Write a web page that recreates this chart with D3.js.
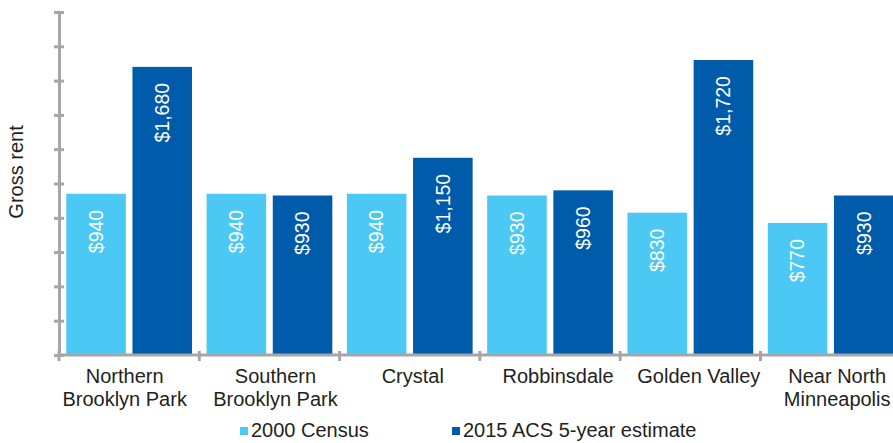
<!DOCTYPE html>
<html>
<head>
<meta charset="utf-8">
<script src="https://cdn.jsdelivr.net/npm/d3@7"></script>
<style>
  html, body { margin: 0; padding: 0; background: #fff; }
  svg { display: block; }
  text { font-family: "Liberation Sans", Arial, sans-serif; }
</style>
</head>
<body>
<svg id="chart" width="893" height="443"></svg>
<script>
const categories = ["Northern\nBrooklyn Park", "Southern\nBrooklyn Park", "Crystal", "Robbinsdale", "Golden Valley", "Near North\nMinneapolis"];
const seriesNames = ["2000 Census", "2015 ACS 5-year estimate"];
const census2000 = [940, 940, 940, 930, 830, 770];
const acs2015 = [1680, 930, 1150, 960, 1720, 930];
const yTicks = [0, 200, 400, 600, 800, 1000, 1200, 1400, 1600, 1800, 2000];
const colors = ["#4BC8F4", "#005BAA"];

const svg = d3.select("#chart");
const mLeft = 59, mTop = 12, mBottom = 355;
const bandW = 140.3;
// small horizontal nudges of category labels (layout only)
const labelNudge = [-4.5, 6, 3, 8, 8.5, 6.5];

const x0 = d3.scaleBand().domain(categories).range([mLeft, mLeft + bandW * categories.length]).padding(0);
const x1 = d3.scaleBand().domain(seriesNames).range([0, x0.bandwidth()]).paddingInner(0.1).paddingOuter(0.11);
const y = d3.scaleLinear().domain([0, 2000]).range([mBottom, mTop]);

const axisColor = "#A6A6A6";
const textColor = "#231F20";

// bars
const data = categories.map((c, i) => ({ cat: c, vals: [census2000[i], acs2015[i]] }));
const groups = svg.append("g").selectAll("g").data(data).join("g")
  .attr("transform", d => `translate(${x0(d.cat)},0)`);

groups.selectAll("rect").data(d => d.vals.map((v, j) => ({ s: seriesNames[j], v, j })))
  .join("rect")
  .attr("x", d => x1(d.s))
  .attr("y", d => y(d.v))
  .attr("width", x1.bandwidth())
  .attr("height", d => y(0) - y(d.v))
  .attr("fill", d => colors[d.j]);

groups.selectAll("text.val").data(d => d.vals.map((v, j) => ({ s: seriesNames[j], v, j })))
  .join("text")
  .attr("class", "val")
  .attr("transform", d => `translate(${x1(d.s) + x1.bandwidth() / 2},${y(d.v) + 16}) rotate(-90)`)
  .attr("text-anchor", "end")
  .attr("dy", "0.35em")
  .attr("fill", "#fff")
  .attr("font-size", 19.5)
  .text(d => "$" + d3.format(",")(d.v));

// y axis
const yAxis = d3.axisLeft(y).tickValues(yTicks).tickSize(0).tickFormat("");
const yg = svg.append("g").attr("transform", `translate(${mLeft},0)`).call(yAxis);
yg.select(".domain").attr("stroke", axisColor).attr("stroke-width", 3);
yg.selectAll(".tick line").remove();
yg.selectAll(".tick").append("line")
  .attr("x1", -5).attr("x2", 5)
  .attr("stroke", axisColor).attr("stroke-width", 3);

// x axis
const boundaries = d3.range(categories.length + 1).map(i => mLeft + i * bandW);
const xg = svg.append("g");
xg.append("line").attr("x1", mLeft).attr("x2", 893).attr("y1", mBottom).attr("y2", mBottom)
  .attr("stroke", axisColor).attr("stroke-width", 3);
xg.selectAll("line.tk").data(boundaries).join("line").attr("class", "tk")
  .attr("x1", d => d).attr("x2", d => d).attr("y1", mBottom - 4).attr("y2", mBottom + 6)
  .attr("stroke", axisColor).attr("stroke-width", 3);

const xlab = svg.append("g").selectAll("text").data(categories).join("text")
  .attr("y", 383)
  .attr("text-anchor", "middle")
  .attr("font-size", 20)
  .attr("fill", textColor);
xlab.each(function(d, i) {
  const cx = x0(d) + x0.bandwidth() / 2 + labelNudge[i];
  const lines = d.split("\n");
  d3.select(this).selectAll("tspan").data(lines).join("tspan")
    .attr("x", cx)
    .attr("dy", (l, k) => k === 0 ? 0 : 23)
    .text(l => l);
});

// y title
svg.append("text")
  .attr("transform", "translate(23,172) rotate(-90)")
  .attr("text-anchor", "middle")
  .attr("font-size", 20)
  .attr("fill", textColor)
  .text("Gross rent");

// legend
const legX = [240, 452];
const leg = svg.append("g").selectAll("g").data(seriesNames).join("g")
  .attr("transform", (d, i) => `translate(${legX[i]},437)`);
leg.append("rect").attr("x", 0).attr("y", -10).attr("width", 8).attr("height", 8)
  .attr("fill", (d, i) => colors[i]);
leg.append("text").attr("x", 11).attr("y", 0).attr("font-size", 20).attr("fill", textColor).text(d => d);
</script>
</body>
</html>
